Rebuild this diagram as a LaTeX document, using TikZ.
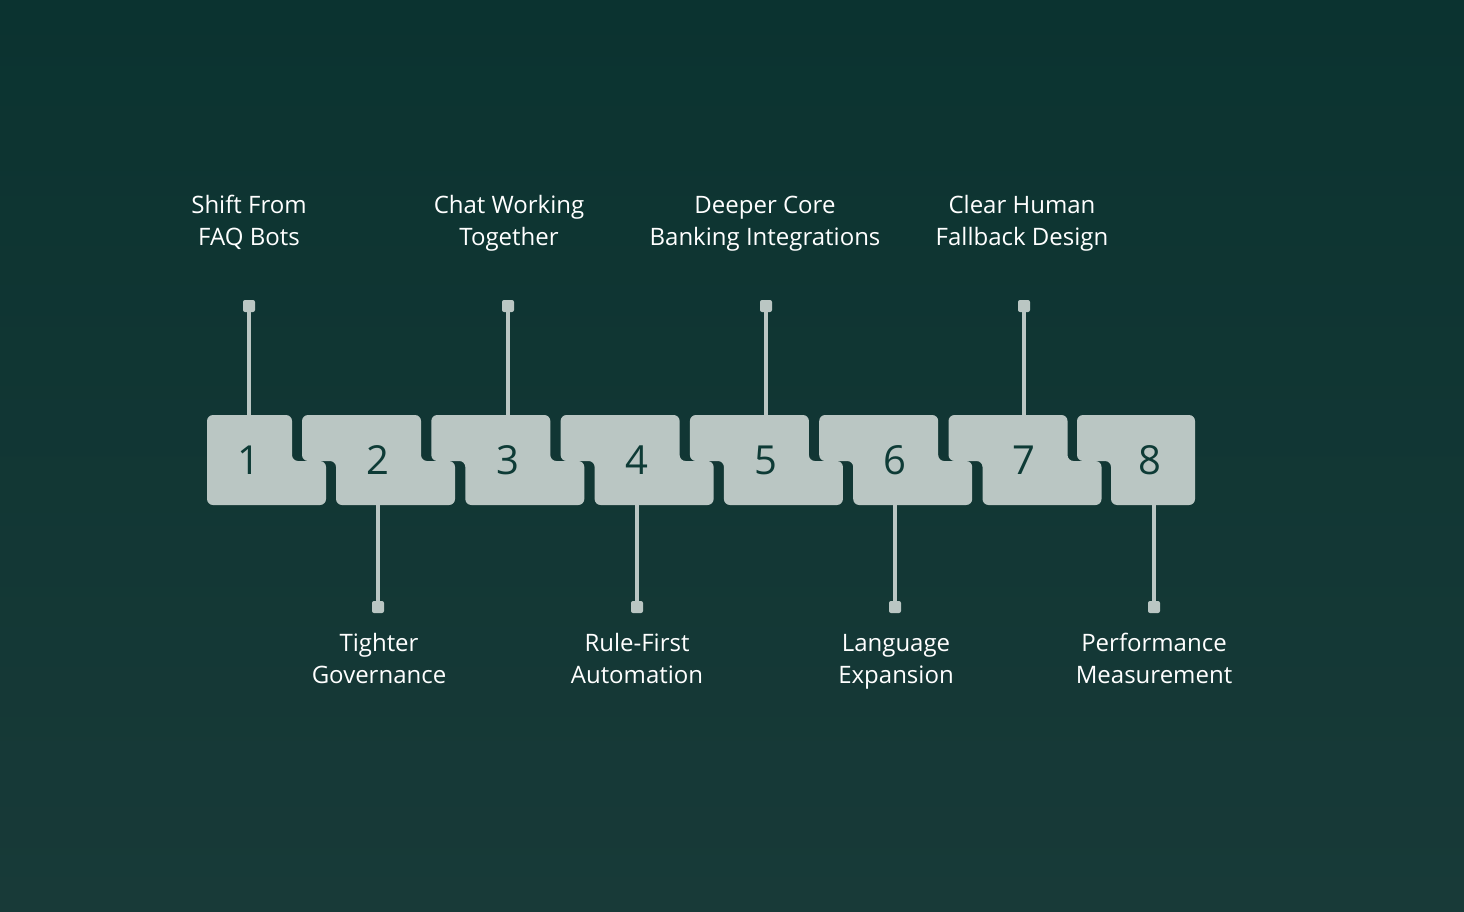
\documentclass[tikz,border=0pt]{standalone}
\usepackage{fontspec}
\setmainfont{Open Sans}
\definecolor{bgtop}{HTML}{0B3330}
\definecolor{bgbot}{HTML}{183A38}
\definecolor{piece}{HTML}{BAC6C3}
\definecolor{numc}{HTML}{0E3B36}
\begin{document}
\begin{tikzpicture}[x=1pt,y=-1pt,
  pz/.style={fill=piece,rounded corners=6pt},
  num/.style={text=numc,font=\fontsize{40}{44}\selectfont},
  lbl/.style={text=white,align=center,font=\fontsize{24}{32}\selectfont,text height=17pt,text depth=5pt},
  stem/.style={draw=piece,line width=3.5pt},
  endcap/.style={fill=piece,minimum size=12pt,inner sep=0pt,rounded corners=2pt}]
\shade[top color=bgtop,bottom color=bgbot] (0,0) rectangle (1464,912);
\useasboundingbox (0,0) rectangle (1464,912);
% piece 1
\path[pz] (207,415) -- (292,415) -- (292,461) -- (326,461) -- (326,505) -- (207,505) -- cycle;
% middle pieces
\foreach \k in {1,...,6}{
  \pgfmathsetmacro\a{302+129.3*(\k-1)}
  \pgfmathsetmacro\b{\a+119}
  \path[pz] (\a,415) -- (\b,415) -- (\b,461) -- (\b+34,461) -- (\b+34,505) -- (\a+34,505) -- (\a+34,461) -- (\a,461) -- cycle;
}
% piece 8
\path[pz] (1077,415) -- (1195,415) -- (1195,505) -- (1111,505) -- (1111,461) -- (1077,461) -- cycle;
% numbers
\foreach \n/\x in {1/249,2/378,3/508,4/637,5/766,6/895,7/1024,8/1150}
  \node[num] (n\n) at (\x,460) {\n};
% top stems
\foreach \n/\x in {1/249,3/508,5/766,7/1024}{
  \coordinate (t\n) at (\x,415);
  \node[endcap] (c\n) at (\x,306) {};
  \draw[stem] (c\n.center) -- (t\n);
}
\foreach \n/\x in {2/378,4/637,6/895,8/1154}{
  \coordinate (t\n) at (\x,505);
  \node[endcap] (c\n) at (\x,607) {};
  \draw[stem] (t\n) -- (c\n.center);
}
\node[lbl] (l1) at (249,239) {Shift From\\FAQ Bots};
\node[lbl] (l3) at (509,239) {Chat Working\\Together};
\node[lbl] (l5) at (765,239) {Deeper Core\\Banking Integrations};
\node[lbl] (l7) at (1022,239) {Clear Human\\Fallback Design};
\node[lbl] (l2) at (379,677) {Tighter\\Governance};
\node[lbl] (l4) at (637,677) {Rule-First\\Automation};
\node[lbl] (l6) at (896,677) {Language\\Expansion};
\node[lbl] (l8) at (1154,677) {Performance\\Measurement};
\end{tikzpicture}
\end{document}
